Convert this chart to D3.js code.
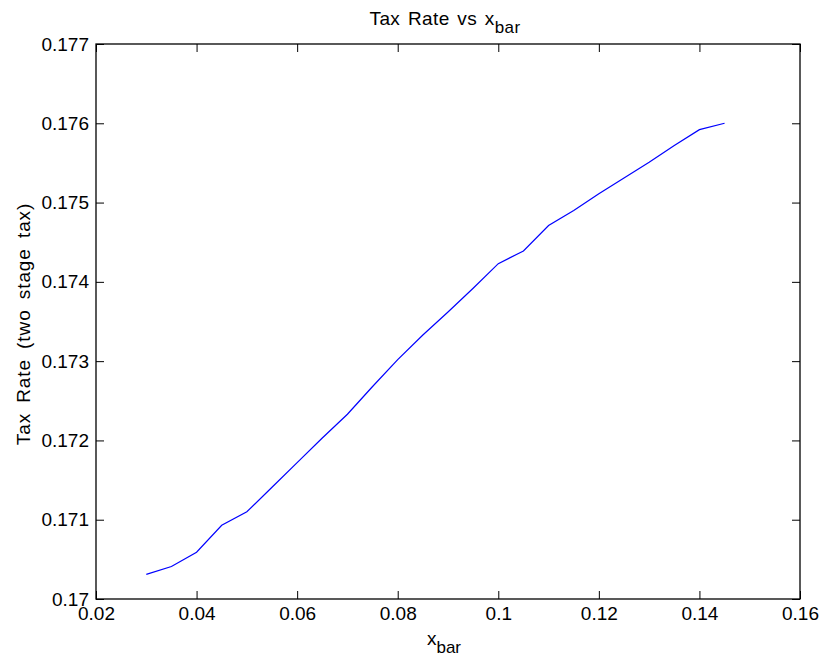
<!DOCTYPE html>
<html>
<head>
<meta charset="utf-8">
<script src="https://cdn.jsdelivr.net/npm/d3@7"></script>
<style>
  body { margin: 0; background: #fff; }
  svg text { font-family: "Liberation Sans", Arial, sans-serif; fill: #000; }
</style>
</head>
<body>
<script>
// x_bar values (step 0.005) and two stage tax rate
const xbar = [0.030, 0.035, 0.040, 0.045, 0.050, 0.055, 0.060, 0.065, 0.070, 0.075,
              0.080, 0.085, 0.090, 0.095, 0.100, 0.105, 0.110, 0.115, 0.120, 0.125,
              0.130, 0.135, 0.140, 0.145];
const taxRate = [0.17031, 0.17041, 0.17059, 0.17093, 0.17110, 0.17141, 0.17172, 0.17203, 0.17233, 0.17268,
                 0.17302, 0.17333, 0.17362, 0.17392, 0.17423, 0.17439, 0.17471, 0.17490, 0.17511, 0.17531,
                 0.17551, 0.17572, 0.17592, 0.17600];
const xTicks = [0.02, 0.04, 0.06, 0.08, 0.1, 0.12, 0.14, 0.16];
const yTicks = [0.170, 0.171, 0.172, 0.173, 0.174, 0.175, 0.176, 0.177];

const width = 823, height = 662;
const plotL = 96, plotR = 800, plotT = 44, plotB = 599;

const svg = d3.select("body").append("svg")
    .attr("width", width)
    .attr("height", height);

const x = d3.scaleLinear().domain([0.02, 0.16]).range([plotL, plotR]);
const y = d3.scaleLinear().domain([0.170, 0.177]).range([plotB, plotT]);

const fmt = d => String(+d.toFixed(3));

// axes: ticks point inward, labels only on bottom/left
svg.append("g")
    .attr("transform", `translate(0,${plotB})`)
    .call(d3.axisBottom(x).tickValues(xTicks).tickSizeInner(-8).tickSizeOuter(0).tickFormat(fmt))
    .call(g => g.selectAll("text").attr("font-size", 19).attr("dy", "0.71em").attr("y", 8));
svg.append("g")
    .attr("transform", `translate(0,${plotT})`)
    .call(d3.axisTop(x).tickValues(xTicks).tickSizeInner(-8).tickSizeOuter(0).tickFormat(""));
svg.append("g")
    .attr("transform", `translate(${plotL},0)`)
    .call(d3.axisLeft(y).tickValues(yTicks).tickSizeInner(-8).tickSizeOuter(0).tickFormat(fmt))
    .call(g => g.selectAll("text").attr("font-size", 19).attr("x", -7));
svg.append("g")
    .attr("transform", `translate(${plotR},0)`)
    .call(d3.axisRight(y).tickValues(yTicks).tickSizeInner(-8).tickSizeOuter(0).tickFormat(""));

svg.selectAll(".domain").remove();
svg.selectAll(".tick line").attr("stroke", "#000");
svg.selectAll(".tick text").attr("font-family", "Liberation Sans, Arial, sans-serif");

svg.append("rect")
    .attr("x", plotL).attr("y", plotT)
    .attr("width", plotR - plotL).attr("height", plotB - plotT)
    .attr("fill", "none").attr("stroke", "#000").attr("stroke-width", 1.3);

// the curve
const line = d3.line()
    .x((d, i) => x(xbar[i]))
    .y(d => y(d));

svg.append("path")
    .datum(taxRate)
    .attr("d", line)
    .attr("fill", "none")
    .attr("stroke", "#0000ff")
    .attr("stroke-width", 1.2);

// title and labels
const title = svg.append("text")
    .attr("x", 445).attr("y", 25)
    .attr("text-anchor", "middle")
    .attr("font-size", 19)
    .attr("letter-spacing", 0.4)
    .attr("word-spacing", 2);
title.append("tspan").text("Tax Rate vs x");
title.append("tspan").attr("dy", 8).attr("font-size", 17).text("bar");

const xl = svg.append("text")
    .attr("x", 444).attr("y", 645)
    .attr("text-anchor", "middle")
    .attr("font-size", 19);
xl.append("tspan").text("x");
xl.append("tspan").attr("dy", 8).attr("font-size", 17).text("bar");

svg.append("text")
    .attr("transform", `translate(30,324) rotate(-90)`)
    .attr("text-anchor", "middle")
    .attr("font-size", 19)
    .attr("letter-spacing", 0.9)
    .attr("word-spacing", 4)
    .text("Tax Rate (two stage tax)");
</script>
</body>
</html>
